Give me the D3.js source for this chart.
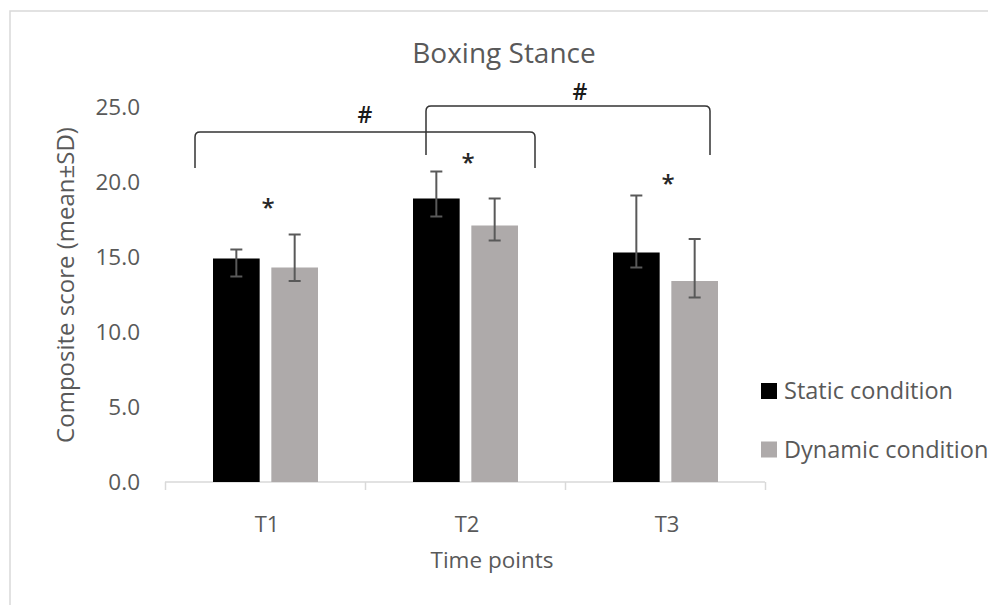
<!DOCTYPE html>
<html>
<head>
<meta charset="utf-8">
<script src="https://cdn.jsdelivr.net/npm/d3@7"></script>
<style>
  html, body { margin: 0; padding: 0; background: #fff; }
  svg { display: block; }
  text { font-family: "Open Sans", "Noto Sans", sans-serif; }
</style>
</head>
<body>
<svg id="chart" width="988" height="605"></svg>
<script>
// Time points and condition series
const categories = ["T1", "T2", "T3"];
const seriesNames = ["Static condition", "Dynamic condition"];
const staticMean = [14.9, 18.9, 15.3];
const dynamicMean = [14.3, 17.1, 13.4];
// Error bar ends (upper / lower) per time point
const staticErrHigh = [15.5, 20.7, 19.1];
const staticErrLow = [13.7, 17.7, 14.3];
const dynamicErrHigh = [16.5, 18.9, 16.2];
const dynamicErrLow = [13.4, 16.1, 12.3];
const yTicks = [0, 5, 10, 15, 20, 25];

// Significance marks: asterisks over each time point, "#" brackets between time points
const starCategories = ["T1", "T2", "T3"];
const starHeights = [18.9, 21.9, 20.5];
const bracketFrom = [0.15, 1.305];
const bracketTo = [1.85, 2.725];
const bracketTop = [23.33, 25.07];
const bracketFoot = [20.93, 21.8];
const bracketLabelPos = [1.0, 2.075];
const bracketLabelHeight = [24.45, 26.0];

const svg = d3.select("#chart");
const colors = { "Static condition": "#000000", "Dynamic condition": "#aeaaaa" };
const textColor = "#595959";

// Outer chart frame
svg.append("rect")
  .attr("x", 10).attr("y", 11).attr("width", 1100).attr("height", 700)
  .attr("fill", "none").attr("stroke", "#d9d9d9").attr("stroke-width", 1.5);

const plot = { left: 165, right: 765, top: 107, bottom: 482 };

const y = d3.scaleLinear().domain([0, 25]).range([plot.bottom, plot.top]);
const x0 = d3.scaleBand().domain(categories).range([plot.left, plot.right]).padding(0);
const x1 = d3.scaleBand().domain(seriesNames).range([48, 153]).paddingInner(0.2);
const xIdx = d3.scaleLinear().domain([0, categories.length]).range([plot.left, plot.right]);

// Title
svg.append("text")
  .attr("x", 504).attr("y", 63)
  .attr("text-anchor", "middle")
  .attr("font-size", 28).attr("fill", textColor)
  .text("Boxing Stance");

// Y axis labels (no axis line, no gridlines)
const yAxis = d3.axisLeft(y).tickValues(yTicks).tickFormat(d3.format(".1f")).tickSize(0).tickPadding(0);
const yg = svg.append("g").attr("transform", `translate(140,0)`).call(yAxis);
yg.select(".domain").remove();
yg.selectAll("text")
  .attr("font-family", "'Open Sans', sans-serif")
  .attr("font-size", 22.5).attr("fill", textColor);

// X axis with category separators
const xAxis = d3.axisBottom(xIdx).tickValues([0, 1, 2, 3]).tickSize(8).tickFormat("");
const xg = svg.append("g").attr("transform", `translate(0,${plot.bottom})`).call(xAxis);
xg.select(".domain").attr("stroke", "#d9d9d9").attr("stroke-width", 1.5).attr("d", `M${plot.left},0H${plot.right}`);
xg.selectAll(".tick line").attr("stroke", "#d9d9d9").attr("stroke-width", 1.5);

svg.append("g").selectAll("text")
  .data(categories).join("text")
  .attr("x", d => x0(d) + x0.bandwidth() / 2 + 2)
  .attr("y", 532)
  .attr("text-anchor", "middle")
  .attr("font-size", 22).attr("fill", textColor)
  .text(d => d);

// Axis titles
svg.append("text")
  .attr("x", 492).attr("y", 568)
  .attr("text-anchor", "middle")
  .attr("font-size", 22.5).attr("fill", textColor)
  .text("Time points");

svg.append("text")
  .attr("transform", "translate(74,285) rotate(-90)")
  .attr("text-anchor", "middle")
  .attr("font-size", 24).attr("fill", textColor)
  .text("Composite score (mean±SD)");

// Bars
const rows = categories.map((c, i) => ({
  cat: c,
  values: [
    { name: seriesNames[0], mean: staticMean[i], hi: staticErrHigh[i], lo: staticErrLow[i] },
    { name: seriesNames[1], mean: dynamicMean[i], hi: dynamicErrHigh[i], lo: dynamicErrLow[i] }
  ]
}));

const groups = svg.append("g").selectAll("g")
  .data(rows).join("g")
  .attr("transform", d => `translate(${x0(d.cat)},0)`);

groups.selectAll("rect")
  .data(d => d.values).join("rect")
  .attr("x", d => x1(d.name))
  .attr("width", x1.bandwidth())
  .attr("y", d => y(d.mean))
  .attr("height", d => y(0) - y(d.mean))
  .attr("fill", d => colors[d.name]);

// Error bars
const errG = groups.selectAll("g.err")
  .data(d => d.values).join("g").attr("class", "err")
  .attr("stroke", "#595959").attr("stroke-width", 2);
errG.append("line")
  .attr("x1", d => x1(d.name) + x1.bandwidth() / 2)
  .attr("x2", d => x1(d.name) + x1.bandwidth() / 2)
  .attr("y1", d => y(d.hi)).attr("y2", d => y(d.lo));
["hi", "lo"].forEach(k => {
  errG.append("line")
    .attr("x1", d => x1(d.name) + x1.bandwidth() / 2 - 6)
    .attr("x2", d => x1(d.name) + x1.bandwidth() / 2 + 6)
    .attr("y1", d => y(d[k])).attr("y2", d => y(d[k]));
});

// Asterisks
svg.append("g").selectAll("text")
  .data(starCategories).join("text")
  .attr("x", d => x0(d) + x0.bandwidth() / 2 + 3)
  .attr("y", (d, i) => y(starHeights[i]))
  .attr("dy", "0.72em")
  .attr("text-anchor", "middle")
  .attr("font-size", 24).attr("font-weight", 600).attr("fill", "#262626")
  .text("*");

// Brackets
const r = 5;
const bracketPath = i => {
  const xa = xIdx(bracketFrom[i]), xb = xIdx(bracketTo[i]);
  const yt = y(bracketTop[i]), yf = y(bracketFoot[i]);
  return `M${xa},${yf}L${xa},${yt + r}Q${xa},${yt} ${xa + r},${yt}L${xb - r},${yt}Q${xb},${yt} ${xb},${yt + r}L${xb},${yf}`;
};
svg.append("g").selectAll("path")
  .data(d3.range(bracketFrom.length)).join("path")
  .attr("d", bracketPath)
  .attr("fill", "none").attr("stroke", "#333333").attr("stroke-width", 1.5);

svg.append("g").selectAll("text")
  .data(d3.range(bracketFrom.length)).join("text")
  .attr("x", i => xIdx(bracketLabelPos[i]))
  .attr("y", i => y(bracketLabelHeight[i]))
  .attr("dy", "0.35em")
  .attr("text-anchor", "middle")
  .attr("font-size", 23).attr("font-weight", 600).attr("fill", "#1a1a1a")
  .text("#");

// Legend
const legend = svg.append("g").selectAll("g")
  .data(seriesNames).join("g")
  .attr("transform", (d, i) => `translate(761,${391 + i * 58.5})`);
legend.append("rect")
  .attr("x", 0).attr("y", -8).attr("width", 16).attr("height", 16)
  .attr("fill", d => colors[d]);
legend.append("text")
  .attr("x", 23).attr("y", 0).attr("dy", "0.35em")
  .attr("font-size", 23.5).attr("fill", textColor)
  .text(d => d);
</script>
</body>
</html>
